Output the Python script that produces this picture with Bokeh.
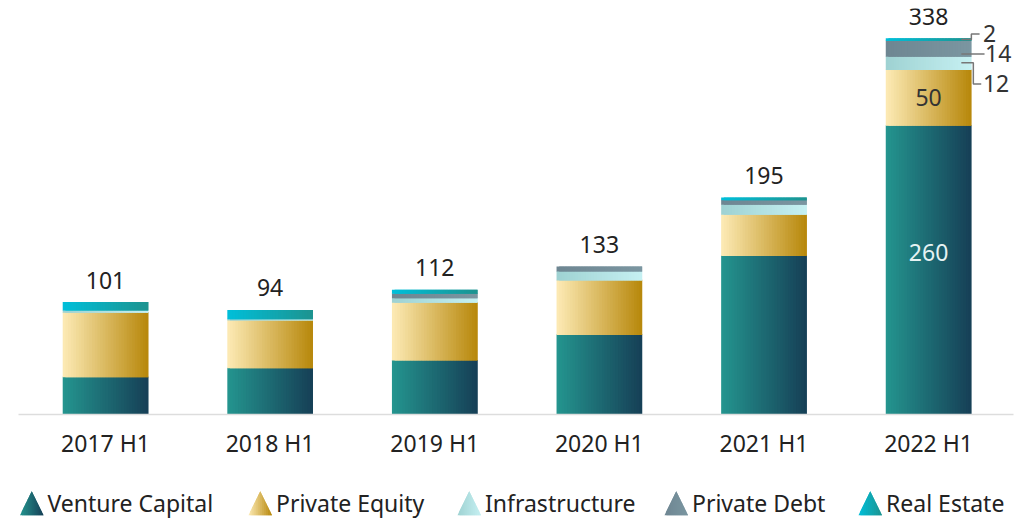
import numpy as np
from bokeh.plotting import figure
from bokeh.models import ColumnDataSource, Range1d, FixedTicker
from bokeh.layouts import column
from bokeh.embed import file_html
from bokeh.resources import INLINE
from bokeh.core.properties import value

# ---------------- data ----------------
categories = ["2017 H1", "2018 H1", "2019 H1", "2020 H1", "2021 H1", "2022 H1"]
venture_capital = [34, 42, 49, 72, 143, 260]
private_equity = [58, 43, 52, 49, 37, 50]
infrastructure = [2, 1, 4, 8, 9, 12]
private_debt = [0, 0, 4, 4, 4, 14]
real_estate = [7, 8, 3, 0, 2, 2]
totals = [101, 94, 112, 133, 195, 338]

series_names = ["Venture Capital", "Private Equity", "Infrastructure", "Private Debt", "Real Estate"]
series_values = [venture_capital, private_equity, infrastructure, private_debt, real_estate]

# ---------------- style ----------------
gradients = [("#24958f", "#163f56"), ("#fdebb6", "#b7870a"), ("#9ed2d2", "#c6f0f2"),
             ("#6e8692", "#7b96a1"), ("#00bfda", "#1d938f")]
FONT = "Noto Sans"
FS = "23px"
BAR_W = 0.52
N_SLICES = 32


def hex2rgb(h):
    h = h.lstrip("#")
    return np.array([int(h[i:i + 2], 16) for i in (0, 2, 4)], dtype=float)


def mix(c0, c1, t):
    c = hex2rgb(c0) * (1 - t) + hex2rgb(c1) * t
    return "#%02x%02x%02x" % tuple(int(round(v)) for v in c)


rows = dict(left=[], right=[], bottom=[], top=[], color=[])
sw = BAR_W / N_SLICES
for i in range(len(categories)):
    base = 0.0
    for vals, (c0, c1) in zip(series_values, gradients):
        v = vals[i]
        if v > 0:
            for k in range(N_SLICES):
                t = (k + 0.5) / N_SLICES
                lft = i - BAR_W / 2 + k * sw
                rows["left"].append(lft)
                rows["right"].append(min(lft + 2 * sw, i + BAR_W / 2))
                rows["bottom"].append(base - 0.5 if base > 0 else base)
                rows["top"].append(base + v)
                rows["color"].append(mix(c0, c1, t))
        base += v

x0 = -0.5286
x1 = 5.516
p = figure(width=1018, height=470, x_range=Range1d(x0, x1), y_range=Range1d(0, 364.8),
           output_backend="svg", toolbar_location=None, y_axis_location=None,
           min_border_left=18, min_border_right=5, min_border_top=8, min_border_bottom=56)
p.outline_line_color = None
p.grid.visible = False

p.quad(left="left", right="right", bottom="bottom", top="top", fill_color="color",
       line_color=None, source=ColumnDataSource(rows))

# totals above bars
p.text(x=list(range(len(categories))), y=totals, text=[str(t) for t in totals],
       text_align="center", text_baseline="alphabetic", y_offset=-22,
       text_font=value(FONT), text_font_size=FS, text_color="#222222")

# labels inside the last bar
last = len(categories) - 1
p.text(x=[last], y=[venture_capital[last] / 2], text=[str(venture_capital[last])],
       text_align="center", text_baseline="middle", y_offset=-17,
       text_font=value(FONT), text_font_size=FS, text_color="#e6f3f3")
p.text(x=[last], y=[venture_capital[last] + private_equity[last] / 2], text=[str(private_equity[last])],
       text_align="center", text_baseline="middle",
       text_font=value(FONT), text_font_size=FS, text_color="#333333")

# leader-line annotations for the small top segments of the last bar
b_inf = venture_capital[last] + private_equity[last]
mid_inf = b_inf + infrastructure[last] / 2
mid_debt = b_inf + infrastructure[last] + private_debt[last] / 2
mid_re = b_inf + infrastructure[last] + private_debt[last] + real_estate[last] / 2
edge = last + BAR_W / 2
xs_start = edge - 0.061
y_re_lab = mid_re + 5
y_debt_lab = mid_debt - 5
y_inf_lab = mid_inf - 19
p.multi_line(xs=[[xs_start, edge, edge, edge + 0.05],
                 [xs_start, edge + 0.08],
                 [xs_start, edge + 0.012, edge + 0.012, edge + 0.06]],
             ys=[[mid_re, mid_re, y_re_lab, y_re_lab],
                 [y_debt_lab, y_debt_lab],
                 [mid_inf, mid_inf, y_inf_lab, y_inf_lab]],
             line_color="#777777", line_width=1.5)
p.text(x=[edge + 0.07, edge + 0.083, edge + 0.07], y=[y_re_lab, y_debt_lab, y_inf_lab],
       text=[str(real_estate[last]), str(private_debt[last]), str(infrastructure[last])],
       text_align="left", text_baseline="middle",
       text_font=value(FONT), text_font_size=FS, text_color="#333333")

# x axis
ax = p.xaxis[0]
ax.ticker = FixedTicker(ticks=list(range(len(categories))))
ax.major_label_overrides = {i: c for i, c in enumerate(categories)}
ax.axis_line_color = "#dddddd"
ax.axis_line_width = 1.5
ax.major_tick_line_color = None
ax.minor_tick_line_color = None
ax.major_label_standoff = 6
ax.major_label_text_font = FONT
ax.major_label_text_font_size = FS
ax.major_label_text_color = "#222222"

# ---------------- legend (own figure with gradient triangles) ----------------
# (its frame is aligned with the main frame by the column layout: 18 .. 1013 px)
LH = 48
leg = figure(width=1018, height=LH, x_range=Range1d(18, 1013), y_range=Range1d(0, LH),
             output_backend="svg", toolbar_location=None, x_axis_location=None,
             y_axis_location=None, min_border=0)
leg.outline_line_color = None
leg.grid.visible = False

tri_left = [19.5, 248, 457, 664, 858]
TW, TH, TB = 23.5, 24, 3.3
NT = 12
pxs, pys, pcs = [], [], []
for L, (c0, c1) in zip(tri_left, gradients):
    cx = L + TW / 2

    def h(x):
        return TB + TH * (1 - abs(x - cx) / (TW / 2))

    for k in range(NT):
        xa = L + k * TW / NT
        xb = min(L + (k + 2) * TW / NT, L + TW)
        if k == NT // 2 - 1:
            pxs.append([xa, cx, cx + TW / NT, cx + TW / NT, cx, xa])
            pys.append([TB, TB, TB, h(cx + TW / NT), h(cx), h(xa)])
        else:
            pxs.append([xa, xb, xb, xa])
            pys.append([TB, TB, h(xb), h(xa)])
        pcs.append(mix(c0, c1, (k + 0.5) / NT))
leg.patches(xs=pxs, ys=pys, fill_color=pcs, line_color=None)
leg.text(x=[L + 27.5 for L in tri_left], y=[16] * len(tri_left), text=series_names,
         text_align="left", text_baseline="middle",
         text_font=value(FONT), text_font_size=FS, text_color="#222222")

layout = column(p, leg, spacing=0)
open("out.html", "w").write(file_html(layout, INLINE))
